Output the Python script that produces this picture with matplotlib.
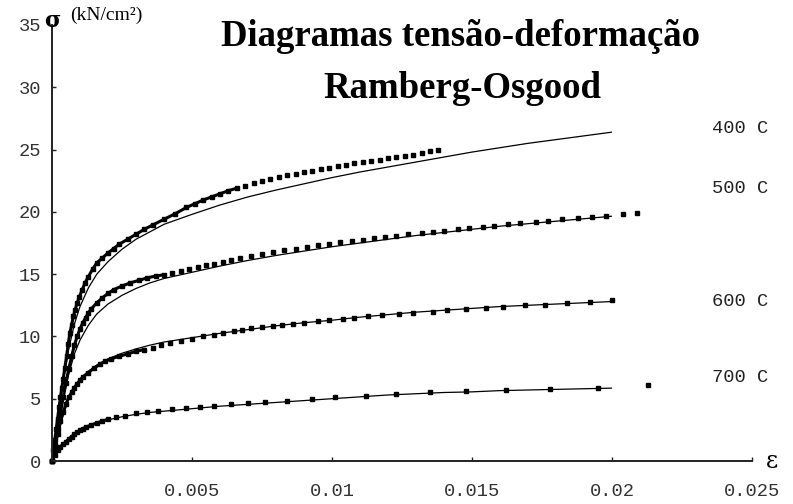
import matplotlib
matplotlib.use("Agg")
import matplotlib.pyplot as plt
import numpy as np

# ---------------- data ----------------
x_ticks = [0.005, 0.01, 0.015, 0.02, 0.025]
x_tick_labels = ["0.005", "0.01", "0.015", "0.02", "0.025"]
y_ticks = [0, 5, 10, 15, 20, 25, 30, 35]
y_tick_labels = ["0", "5", "10", "15", "20", "25", "30", "35"]
temps = ["400 C", "500 C", "600 C", "700 C"]

# Ramberg-Osgood fitted curves (solid thin lines)
eps_fit = [0, 0.0002, 0.0004, 0.0006, 0.0008, 0.001, 0.0013, 0.0016, 0.002, 0.0025,
           0.003, 0.0035, 0.004, 0.005, 0.006, 0.007, 0.008, 0.009, 0.010, 0.011,
           0.012, 0.013, 0.014, 0.015, 0.016, 0.017, 0.018, 0.019, 0.020]
fit_400 = [0, 3.3, 6.4, 9.0, 11.0, 12.4, 13.9, 15.0, 16.0, 17.0, 17.8, 18.4, 19.0,
           19.8, 20.55, 21.2, 21.75, 22.25, 22.75, 23.2, 23.6, 24.0, 24.4, 24.8,
           25.15, 25.5, 25.8, 26.1, 26.4]
fit_500 = [0, 2.6, 5.0, 7.0, 8.6, 9.7, 10.9, 11.8, 12.6, 13.3, 13.85, 14.3, 14.65,
           15.15, 15.65, 16.1, 16.5, 16.85, 17.2, 17.5, 17.8, 18.1, 18.35, 18.6,
           18.85, 19.05, 19.25, 19.45, 19.65]
fit_600 = [0, 1.9, 3.7, 5.0, 5.9, 6.5, 7.2, 7.7, 8.2, 8.65, 9.0, 9.3, 9.55, 9.9,
           10.25, 10.55, 10.85, 11.1, 11.3, 11.55, 11.75, 11.95, 12.1, 12.25, 12.4,
           12.5, 12.6, 12.7, 12.8]
fit_700 = [0, 0.9, 1.4, 1.85, 2.2, 2.45, 2.75, 3.0, 3.3, 3.55, 3.75, 3.9, 4.0, 4.2,
           4.4, 4.55, 4.7, 4.85, 5.0, 5.15, 5.3, 5.4, 5.5, 5.55, 5.65, 5.7, 5.75,
           5.8, 5.85]

# experimental points (dotted)
eps_400 = [0, 0.00005, 0.0001, 0.00015, 0.0002, 0.00025, 0.0003, 0.00035, 0.0004,
           0.00046, 0.00052, 0.00058, 0.00064, 0.0007, 0.00076, 0.00082, 0.0009,
           0.00098, 0.00107, 0.00118, 0.0013, 0.00145, 0.0016, 0.0018, 0.002, 0.0022,
           0.0024, 0.0027, 0.003, 0.0033, 0.0036, 0.004, 0.0044, 0.0048, 0.0051,
           0.0054, 0.0057, 0.006, 0.0063, 0.0066, 0.0069, 0.0072, 0.0075, 0.0078,
           0.0081, 0.0084, 0.0087, 0.009, 0.0093, 0.0096, 0.0099, 0.0102, 0.0105,
           0.0108, 0.0111, 0.0114, 0.0117, 0.012, 0.0123, 0.0126, 0.0129, 0.0132,
           0.0135, 0.0138]
sig_400 = [0, 0.9, 1.7, 2.6, 3.4, 4.3, 5.1, 5.9, 6.6, 7.5, 8.4, 9.4, 10.3, 10.9, 11.6,
           12.1, 12.7, 13.2, 13.7, 14.3, 14.8, 15.4, 15.9, 16.3, 16.7, 17.05, 17.4,
           17.8, 18.2, 18.6, 18.95, 19.4, 19.85, 20.35, 20.65, 20.95, 21.2, 21.45,
           21.7, 21.9, 22.1, 22.3, 22.5, 22.65, 22.8, 22.95, 23.05, 23.2, 23.3, 23.45,
           23.55, 23.7, 23.8, 23.9, 24.0, 24.1, 24.2, 24.3, 24.4, 24.5, 24.6, 24.7,
           24.85, 25.0]

eps_500 = [0, 0.0001, 0.0002, 0.0003, 0.0004, 0.0005, 0.0006, 0.0007, 0.0008, 0.0009,
           0.001, 0.0011, 0.0012, 0.0013, 0.0014, 0.0016, 0.0018, 0.002, 0.0022,
           0.0025, 0.0028, 0.0031, 0.0034, 0.0037, 0.004, 0.0043, 0.0046, 0.0049,
           0.0052, 0.0055, 0.0058, 0.0061, 0.0064, 0.0067, 0.0071, 0.0075, 0.0079,
           0.0083, 0.0087, 0.0091, 0.0095, 0.0099, 0.0103, 0.0107, 0.0111, 0.0115,
           0.0119, 0.0123, 0.0127, 0.0132, 0.0136, 0.014, 0.0145, 0.0149, 0.0154,
           0.0158, 0.0163, 0.0167, 0.0173, 0.0177, 0.0182, 0.0188, 0.0193, 0.0198,
           0.0204, 0.0209]
sig_500 = [0, 1.3, 2.6, 3.9, 5.1, 6.3, 7.4, 8.4, 9.3, 10.0, 10.6, 11.1, 11.5, 11.9,
           12.2, 12.7, 13.1, 13.45, 13.75, 14.05, 14.3, 14.5, 14.7, 14.85, 14.95,
           15.1, 15.25, 15.4, 15.55, 15.7, 15.85, 16.0, 16.15, 16.3, 16.45, 16.6,
           16.75, 16.9, 17.05, 17.2, 17.3, 17.4, 17.55, 17.65, 17.75, 17.9, 18.0,
           18.1, 18.2, 18.3, 18.4, 18.5, 18.6, 18.7, 18.8, 18.9, 19.0, 19.1, 19.2,
           19.3, 19.4, 19.5, 19.6, 19.7, 19.8, 19.9]

eps_600 = [0, 0.0001, 0.0002, 0.0003, 0.0004, 0.0005, 0.0006, 0.0007, 0.0008, 0.0009,
           0.001, 0.0011, 0.0013, 0.0015, 0.0017, 0.0019, 0.0021, 0.0024, 0.0027,
           0.003, 0.0033, 0.0036, 0.0039, 0.0042, 0.0046, 0.005, 0.0054, 0.0058,
           0.0061, 0.0065, 0.0068, 0.0071, 0.0075, 0.0079, 0.0082, 0.0086, 0.009,
           0.0095, 0.0099, 0.0104, 0.0108, 0.0113, 0.0118, 0.0124, 0.0129, 0.0136,
           0.0141, 0.0148, 0.0155, 0.0161, 0.0169, 0.0176, 0.0184, 0.0192, 0.02]
sig_600 = [0, 1.1, 2.2, 3.2, 3.9, 4.6, 5.1, 5.5, 5.9, 6.2, 6.5, 6.75, 7.1, 7.45, 7.75,
           8.0, 8.2, 8.4, 8.6, 8.8, 8.95, 9.1, 9.3, 9.45, 9.65, 9.8, 10.0, 10.15,
           10.3, 10.45, 10.55, 10.65, 10.75, 10.85, 10.9, 11.0, 11.1, 11.2, 11.3,
           11.4, 11.5, 11.6, 11.7, 11.8, 11.9, 12.0, 12.1, 12.2, 12.3, 12.4, 12.5,
           12.55, 12.65, 12.75, 12.9]

eps_700 = [0, 0.0001, 0.0002, 0.0003, 0.0004, 0.0005, 0.0006, 0.0007, 0.0008, 0.0009,
           0.001, 0.0011, 0.0012, 0.0014, 0.0016, 0.0018, 0.002, 0.0023, 0.0026,
           0.003, 0.0034, 0.0038, 0.0043, 0.0048, 0.0053, 0.0058, 0.0064, 0.007,
           0.0076, 0.0084, 0.0093, 0.0101, 0.0112, 0.0123, 0.0135, 0.0148, 0.0162,
           0.0178, 0.0195, 0.0213]
sig_700 = [0, 0.45, 0.9, 1.15, 1.35, 1.55, 1.75, 1.95, 2.15, 2.3, 2.45, 2.6, 2.7, 2.9,
           3.05, 3.2, 3.35, 3.5, 3.65, 3.85, 3.95, 4.05, 4.15, 4.25, 4.35, 4.45,
           4.55, 4.65, 4.75, 4.85, 5.0, 5.1, 5.25, 5.4, 5.5, 5.6, 5.7, 5.8, 5.9, 6.1]

label_pos_y = [26.7, 21.85, 12.8, 6.7]
thick_until = [0.0066, 0.004, 0.0033, 0.002]

# ---------------- figure ----------------
W, H = 793, 504
fig = plt.figure(figsize=(W / 100, H / 100), dpi=100)
ax = fig.add_axes([52 / W, (H - 461) / H, 700 / W, 436 / H])
ax.set_xlim(0, 0.025)
ax.set_ylim(0, 35)

fits = [fit_400, fit_500, fit_600, fit_700]
epss = [eps_400, eps_500, eps_600, eps_700]
sigs = [sig_400, sig_500, sig_600, sig_700]
for f, e, s, lim in zip(fits, epss, sigs, thick_until):
    ax.plot(eps_fit, f, color="black", lw=0.9, solid_capstyle="butt")
    e = np.asarray(e)
    s = np.asarray(s)
    m = e <= lim
    ax.plot(e[m], s[m], color="black", lw=2.2)
    ax.plot(e, s, ls="none", marker="s", ms=2.4, mfc="black", mec="black",
            clip_on=False)

for t, yy in zip(temps, label_pos_y):
    ax.text(0.02357, yy, t, fontsize=13.5, family="Liberation Mono",
            ha="left", va="center", clip_on=False, color="#222222")

for sp in ["top", "right"]:
    ax.spines[sp].set_visible(False)
for sp in ["left", "bottom"]:
    ax.spines[sp].set_linewidth(1.4)
    ax.spines[sp].set_color("#222222")

ax.set_xticks(x_ticks)
ax.set_xticklabels(x_tick_labels)
ax.set_yticks(y_ticks)
ax.set_yticklabels(y_tick_labels)
ax.tick_params(axis="both", direction="in", length=3, width=1, colors="#222222")
ax.tick_params(axis="x", pad=16)
ax.tick_params(axis="y", pad=8)
for lab in ax.get_xticklabels() + ax.get_yticklabels():
    lab.set_family("Liberation Mono")
    lab.set_fontsize(13.5)
    lab.set_color("#333333")

ax.text(0, 35.3, "σ", fontsize=16, fontweight="bold", family="DejaVu Serif",
        ha="center", va="center", clip_on=False)
ax.text(0.00065, 35.8, "(kN/cm²)", fontsize=14, family="Liberation Serif",
        ha="left", va="center", clip_on=False)
ax.text(0.0257, 0.0, "ε", fontsize=17, family="DejaVu Serif",
        ha="center", va="center", clip_on=False)

fig.text(461 / W, 1 - 36 / H, "Diagramas tensão-deformação", fontsize=26.5,
         fontweight="bold", family="Liberation Serif", ha="center", va="center")
fig.text(462 / W, 1 - 88 / H, "Ramberg-Osgood", fontsize=26.5,
         fontweight="bold", family="Liberation Serif", ha="center", va="center")

fig.savefig("out.png", dpi=100, facecolor="white")
